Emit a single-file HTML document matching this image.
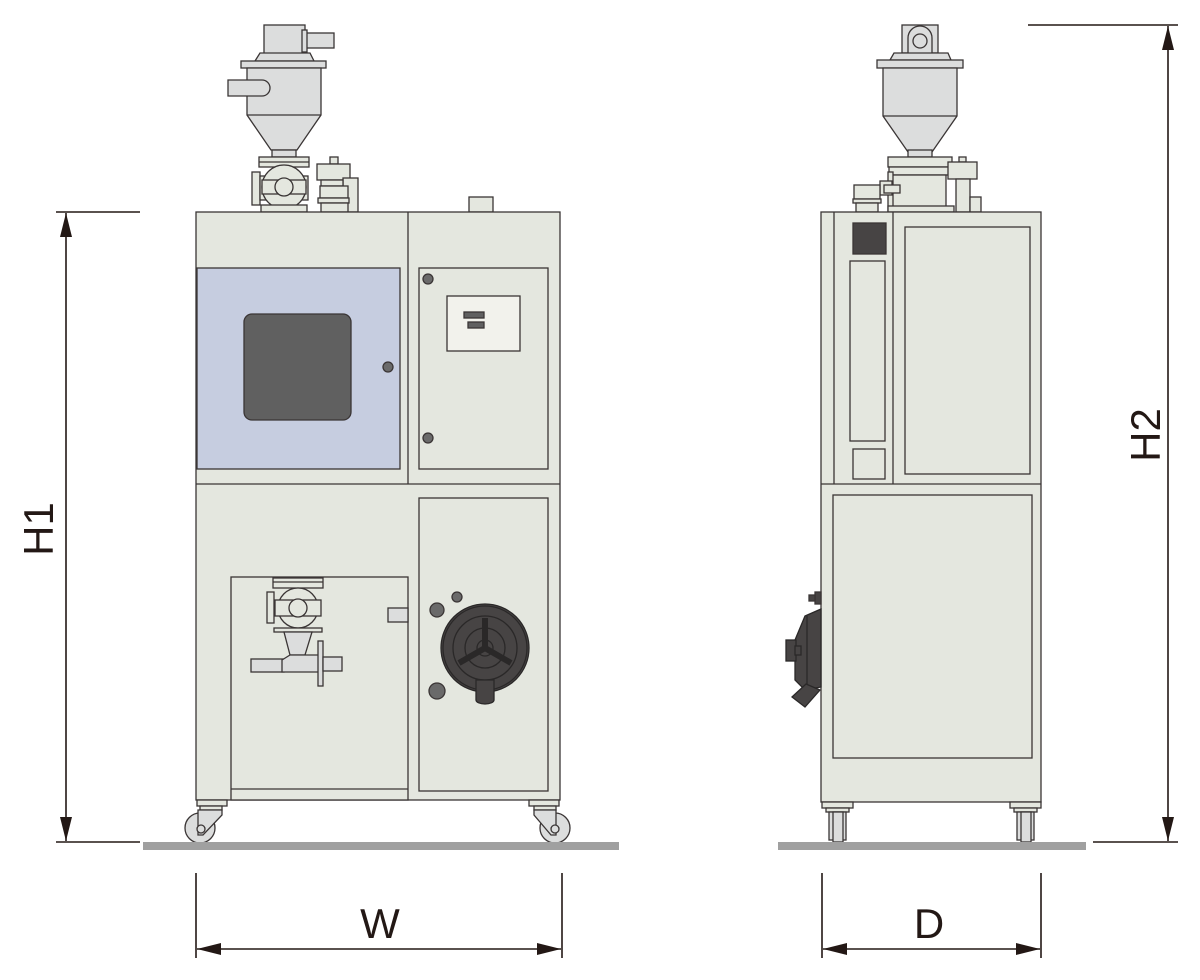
<!DOCTYPE html>
<html><head><meta charset="utf-8"><style>html,body{margin:0;padding:0;background:#fff}svg{display:block}</style></head>
<body>
<svg width="1200" height="980" viewBox="0 0 1200 980" xmlns="http://www.w3.org/2000/svg" font-family="Liberation Sans, sans-serif">
<defs>
<marker id="a" viewBox="0 0 24 12" refX="24" refY="6" markerWidth="24" markerHeight="12" markerUnits="userSpaceOnUse" orient="auto-start-reverse"><path d="M0,0 L24,6 L0,12 z" fill="#231815"/></marker>
</defs>
<g stroke="#3a3535" stroke-width="1.3" fill="#e4e7df">
<!-- FRONT hopper -->
<rect x="264" y="25" width="41" height="30" fill="#dcdddd"/>
<rect x="305" y="33" width="29" height="15" fill="#dcdddd"/>
<rect x="302" y="30" width="5" height="22" fill="#dcdddd"/>
<path d="M255,61 L260,53 L310,53 L314,61 z" fill="#dcdddd"/>
<rect x="241" y="61" width="85" height="7" fill="#dcdddd"/>
<path d="M247,68 L321,68 L321,115 L297,150 L271,150 L247,115 z" fill="#dcdddd"/>
<line x1="247" y1="115" x2="321" y2="115"/>
<rect x="272" y="150" width="24" height="7" fill="#dcdddd"/>
<path d="M228,80 L262,80 A8,8 0 0 1 262,96 L228,96 z" fill="#dcdddd"/>
<rect x="259" y="157" width="50" height="10"/>
<line x1="259" y1="162" x2="309" y2="162"/>
<rect x="252" y="172" width="8" height="33"/>
<rect x="260" y="176" width="48" height="24"/>
<circle cx="284" cy="187" r="22"/>
<rect x="262" y="180" width="44" height="14"/>
<circle cx="284" cy="187" r="9"/>
<rect x="261" y="205" width="46" height="7"/>
<rect x="330" y="157" width="8" height="7"/>
<rect x="317" y="164" width="33" height="16"/>
<rect x="343" y="178" width="15" height="34"/>
<rect x="321" y="180" width="22" height="6"/>
<rect x="320" y="186" width="28" height="12"/>
<rect x="318" y="198" width="31" height="5"/>
<rect x="321" y="203" width="27" height="9"/>
<rect x="469" y="197" width="24" height="15"/>
<!-- FRONT body -->
<rect x="196" y="212" width="364" height="588"/>
<line x1="408" y1="212" x2="408" y2="484"/>
<line x1="196" y1="484" x2="560" y2="484"/>
<rect x="197" y="268" width="203" height="201" fill="#c6cde0"/>
<rect x="244" y="314" width="107" height="106" rx="8" fill="#606060"/>
<circle cx="388" cy="367" r="5" fill="#6a6a6a"/>
<rect x="419" y="268" width="129" height="201"/>
<rect x="447" y="296" width="73" height="55" fill="#f2f2ec"/>
<rect x="464" y="312" width="20" height="6" fill="#606060"/>
<rect x="468" y="322" width="16" height="6" fill="#606060"/>
<circle cx="428" cy="279" r="5" fill="#6a6a6a"/>
<circle cx="428" cy="438" r="5" fill="#6a6a6a"/>
<rect x="231" y="577" width="177" height="223"/>
<line x1="231" y1="789" x2="408" y2="789"/>
<rect x="419" y="498" width="129" height="293"/>
<rect x="388" y="608" width="20" height="14" fill="#dcdddd"/>
<!-- inner valve -->
<rect x="273" y="578" width="50" height="10"/>
<line x1="273" y1="582" x2="323" y2="582"/>
<rect x="267" y="592" width="7" height="31"/>
<circle cx="298" cy="608" r="20"/>
<rect x="275" y="600" width="46" height="16"/>
<circle cx="298" cy="608" r="9"/>
<rect x="274" y="628" width="48" height="4"/>
<path d="M284,632 L312,632 L305,655 L290,655 z" fill="#dcdddd"/>
<rect x="251" y="659" width="33" height="13" fill="#dcdddd"/>
<path d="M282,660 L290,655 L320,655 L320,672 L282,672 z" fill="#dcdddd"/>
<rect x="318" y="641" width="5" height="45" fill="#dcdddd"/>
<rect x="323" y="657" width="19" height="14" fill="#dcdddd"/>
<!-- fan -->
<circle cx="485" cy="648" r="44" fill="#474444" stroke="#2a2828"/>
<circle cx="485" cy="648" r="42" fill="none" stroke="#2a2828"/>
<circle cx="485" cy="648" r="32" fill="none" stroke="#2a2828"/>
<circle cx="485" cy="648" r="20" fill="none" stroke="#2a2828"/>
<circle cx="485" cy="648" r="8" fill="#474444" stroke="#2a2828"/>
<path d="M485,648 L485,618 M485,648 L459,663 M485,648 L511,663" stroke="#2a2828" stroke-width="6"/>
<path d="M476,680 L494,680 L494,700 A9,4 0 0 1 476,700 z" fill="#474444" stroke="#2a2828"/>
<circle cx="437" cy="610" r="7" fill="#6a6a6a"/>
<circle cx="457" cy="597" r="5" fill="#6a6a6a"/>
<circle cx="437" cy="691" r="8" fill="#6a6a6a"/>
<!-- front casters -->
<rect x="197" y="800" width="30" height="6"/>
<rect x="200" y="806" width="22" height="4"/>
<circle cx="200" cy="828" r="15" fill="#dcdddd"/>
<path d="M200,810 L222,810 L222,815 L203,835 L198,835 L198,810 z" fill="#dcdddd"/>
<circle cx="201" cy="829" r="4" fill="#dcdddd"/>
<rect x="529" y="800" width="30" height="6"/>
<rect x="534" y="806" width="22" height="4"/>
<circle cx="555" cy="828" r="15" fill="#dcdddd"/>
<path d="M534,810 L556,810 L556,835 L551,835 L534,815 z" fill="#dcdddd"/>
<circle cx="555" cy="829" r="4" fill="#dcdddd"/>
<!-- SIDE hopper -->
<rect x="902" y="25" width="36" height="28" fill="#dcdddd"/>
<path d="M908,53 L908,38 A12,12 0 0 1 932,38 L932,53" fill="#dcdddd"/>
<circle cx="920" cy="41" r="7" fill="#dcdddd"/>
<path d="M890,60 L894,53 L948,53 L951,60 z" fill="#dcdddd"/>
<rect x="877" y="60" width="86" height="8" fill="#dcdddd"/>
<path d="M883,68 L957,68 L957,116 L932,152 L908,152 L883,116 z" fill="#dcdddd"/>
<line x1="883" y1="116" x2="957" y2="116"/>
<rect x="908" y="150" width="24" height="7" fill="#dcdddd"/>
<rect x="888" y="157" width="64" height="10"/>
<rect x="889" y="167" width="60" height="8"/>
<rect x="892" y="175" width="54" height="37"/>
<rect x="888" y="172" width="5" height="40"/>
<rect x="880" y="181" width="12" height="14"/>
<rect x="884" y="185" width="16" height="8"/>
<rect x="888" y="206" width="66" height="6"/>
<rect x="959" y="157" width="7" height="5"/>
<rect x="948" y="162" width="29" height="17"/>
<rect x="956" y="179" width="14" height="33"/>
<rect x="970" y="197" width="11" height="15"/>
<rect x="854" y="185" width="26" height="14"/>
<rect x="853" y="199" width="28" height="4"/>
<rect x="856" y="203" width="22" height="9"/>
<!-- SIDE body -->
<rect x="821" y="212" width="220" height="590"/>
<line x1="834" y1="212" x2="834" y2="484"/>
<line x1="893" y1="212" x2="893" y2="484"/>
<line x1="821" y1="484" x2="1041" y2="484"/>
<rect x="853" y="223" width="33" height="31" fill="#474444"/>
<rect x="850" y="261" width="35" height="180"/>
<rect x="853" y="449" width="32" height="30"/>
<rect x="905" y="227" width="125" height="247"/>
<rect x="833" y="495" width="199" height="263"/>
<!-- side fan -->
<rect x="815" y="592" width="6" height="12" fill="#474444"/>
<rect x="809" y="595" width="6" height="6" fill="#474444"/>
<path d="M821,609 L805,616 L795,640 L795,680 L805,690 L821,687 z" fill="#474444" stroke="#2a2828"/>
<line x1="807" y1="616" x2="807" y2="690" stroke="#2a2828"/>
<rect x="786" y="640" width="10" height="21" fill="#474444" stroke="#2a2828"/>
<rect x="795" y="646" width="6" height="9" fill="#474444" stroke="#2a2828"/>
<path d="M806,684 L820,690 L805,707 L792,697 z" fill="#474444" stroke="#2a2828"/>
<!-- side casters -->
<rect x="822" y="802" width="31" height="6"/>
<rect x="826" y="808" width="23" height="4"/>
<rect x="829" y="812" width="17" height="28" fill="#dcdddd"/>
<rect x="833" y="812" width="10" height="30" fill="#dcdddd"/>
<rect x="1010" y="802" width="31" height="6"/>
<rect x="1014" y="808" width="23" height="4"/>
<rect x="1017" y="812" width="17" height="28" fill="#dcdddd"/>
<rect x="1021" y="812" width="10" height="30" fill="#dcdddd"/>
</g>
<!-- floors -->
<rect x="143" y="842" width="476" height="8" fill="#a0a0a0"/>
<rect x="778" y="842" width="308" height="8" fill="#a0a0a0"/>
<!-- dimensions -->
<g stroke="#231815" stroke-width="1.6" fill="none">
<line x1="56" y1="212" x2="140" y2="212"/>
<line x1="56" y1="842" x2="140" y2="842"/>
<line x1="66" y1="213" x2="66" y2="841" marker-start="url(#a)" marker-end="url(#a)"/>
<line x1="196" y1="873" x2="196" y2="958"/>
<line x1="562" y1="873" x2="562" y2="958"/>
<line x1="197" y1="949" x2="561" y2="949" marker-start="url(#a)" marker-end="url(#a)"/>
<line x1="822" y1="873" x2="822" y2="958"/>
<line x1="1041" y1="873" x2="1041" y2="958"/>
<line x1="823" y1="949" x2="1040" y2="949" marker-start="url(#a)" marker-end="url(#a)"/>
<line x1="1028" y1="25" x2="1178" y2="25"/>
<line x1="1093" y1="842" x2="1178" y2="842"/>
<line x1="1168" y1="26" x2="1168" y2="841" marker-start="url(#a)" marker-end="url(#a)"/>
</g>
<g fill="#231815" font-size="42">
<text x="380" y="938" text-anchor="middle">W</text>
<text x="929" y="938" text-anchor="middle">D</text>
<text transform="translate(53,529) rotate(-90)" text-anchor="middle">H1</text>
<text transform="translate(1160,435) rotate(-90)" text-anchor="middle">H2</text>
</g>
</svg>
</body></html>
